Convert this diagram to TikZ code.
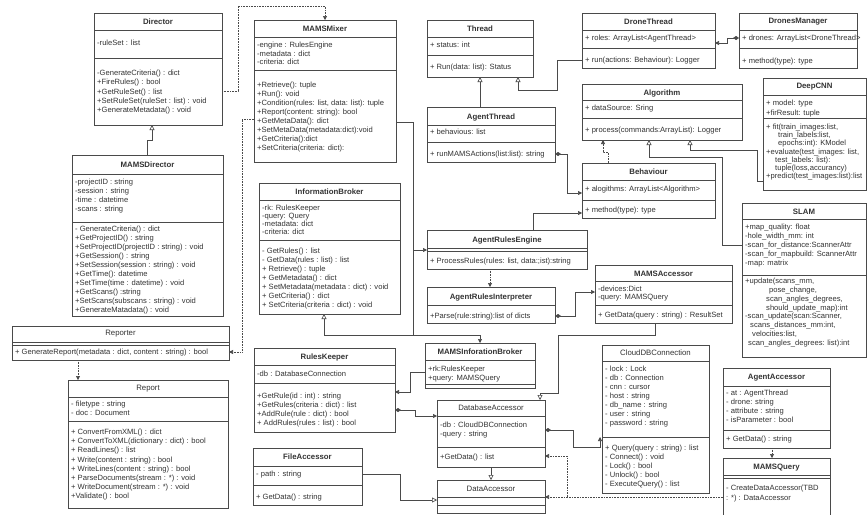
\documentclass[tikz,border=0pt]{standalone}
\usepackage{fontspec}
\setmainfont{Liberation Sans}
\usetikzlibrary{arrows.meta}

\definecolor{linegray}{HTML}{4A4A4A}
\definecolor{txtgray}{HTML}{333333}

\begin{document}
\begin{tikzpicture}[x=1pt,y=-1pt,
	every node/.style={text=txtgray},
	cls/.style={draw=linegray,fill=white,line width=0.6pt,anchor=north west,inner sep=0pt,outer sep=0pt},
	ttl/.style={font=\fontsize{7.8}{9}\selectfont\bfseries,inner sep=0pt},
	ttlr/.style={font=\fontsize{7.8}{9}\selectfont,inner sep=0pt},
	mbr/.style={anchor=north west,align=left,inner sep=0pt,font=\fontsize{7.6}{#1}\selectfont},
	mbr/.default=9,
	sep/.style={draw=linegray,line width=0.6pt},
	link/.style={draw=linegray,line width=0.6pt},
	assoc/.style={link,-{Triangle[length=4pt,width=4pt]}},
	inh/.style={link,-{Triangle[open,fill=white,length=5pt,width=5pt]}},
	dep/.style={link,densely dotted,-{Triangle[length=4pt,width=4pt]}},
	comp/.style={link,{Diamond[length=6pt,width=4pt]}-{Triangle[length=4pt,width=4pt]}}]
	\def\classbox#1#2#3#4#5{%
		\pgfmathsetmacro\bw{#4-#2}\pgfmathsetmacro\bh{#5-#3}%
		\node[cls,minimum width=\bw pt,minimum height=\bh pt] (#1) at (#2,#3) {};}
	\def\hsep#1#2{\draw[sep] (#1.west |- 0,#2) -- (#1.east |- 0,#2);}
	
	\useasboundingbox (0,0) rectangle (867,514);
	
	%Director side
	\classbox{dir}{94}{13}{222}{125}
	\node[ttl] (dir-t) at (dir.north |- 0,22) {Director};
	\hsep{dir}{30}\hsep{dir}{58}
	\node[mbr] (dir-a) at (97,40) {-ruleSet : list};
	\node[mbr=9.2] (dir-m) at (97,70) {-GenerateCriteria() : dict\\+FireRules() : bool\\+GetRuleSet() : list\\+SetRuleSet(ruleSet : list) : void\\+GenerateMetadata() : void};
	
	\classbox{mdir}{72}{155}{223}{316}
	\node[ttl] (mdir-t) at (mdir.north |- 0,165) {MAMSDirector};
	\hsep{mdir}{174}\hsep{mdir}{222}
	\node[mbr] (mdir-a) at (75,179) {-projectID : string\\-session : string\\-time : datetime\\-scans : string};
	\node[mbr] (mdir-m) at (75,226) {- GenerateCriteria() : dict\\+GetProjectID() : string\\+SetProjectID(projectID : string) : void\\+GetSession() : string\\+SetSession(session : string) : void\\+GetTime(): datetime\\+SetTime(time : datetime) : void\\+GetScans() :string\\+SetScans(subscans : string) : void\\+GenerateMatadata() : void};
	
	\classbox{rptr}{12}{326}{229}{360}
	\node[ttlr] (rptr-t) at (rptr.north |- 0,334) {Reporter};
	\hsep{rptr}{342}\hsep{rptr}{345}
	\node[mbr] (rptr-m) at (15,349) {+ GenerateReport(metadata : dict, content : string) : bool};
	
	\classbox{rpt}{68}{380}{228}{508}
	\node[ttlr] (rpt-t) at (rpt.north |- 0,389) {Report};
	\hsep{rpt}{397}\hsep{rpt}{421}
	\node[mbr] (rpt-a) at (71,401) {- filetype : string\\- doc : Document};
	\node[mbr=9.1] (rpt-m) at (71,429) {+ ConvertFromXML() : dict\\+ ConvertToXML(dictionary : dict) : bool\\+ ReadLines() : list\\+ Write(content : string) : bool\\+ WriteLines(content : string) : bool\\+ ParseDocuments(stream : *) : void\\+ WriteDocument(stream : *) : void\\+Validate() : bool};
	
	%mixer and brokers
	\classbox{mix}{254}{20}{396}{162}
	\node[ttl] (mix-t) at (mix.north |- 0,29) {MAMSMixer};
	\hsep{mix}{37}\hsep{mix}{70}
	\node[mbr=8.5] (mix-a) at (257,42) {-engine : RulesEngine\\-metadata : dict\\-criteria: dict};
	\node[mbr] (mix-m) at (257,82) {+Retrieve(): tuple\\+Run(): void\\+Condition(rules: list, data: list): tuple\\+Report(content: string): bool\\+GetMetaData(): dict\\+SetMetaData(metadata:dict):void\\+GetCriteria():dict\\+SetCriteria(criteria: dict):};
	
	\classbox{ib}{259}{183}{400}{314}
	\node[ttl] (ib-t) at (ib.north |- 0,192) {InformationBroker};
	\hsep{ib}{200}\hsep{ib}{240}
	\node[mbr=8] (ib-a) at (262,205) {-rk: RulesKeeper\\-query: Query\\-metadata: dict\\-criteria: dict};
	\node[mbr] (ib-m) at (262,248) {- GetRules() : list\\- GetData(rules : list) : list\\+ Retrieve() : tuple\\+ GetMetadata() : dict\\+ SetMetadata(metadata : dict) : void\\+ GetCriteria() : dict\\+ SetCriteria(criteria : dict) : void};
	
	\classbox{rk}{254}{348}{395}{432}
	\node[ttl] (rk-t) at (rk.north |- 0,357) {RulesKeeper};
	\hsep{rk}{365}\hsep{rk}{383}
	\node[mbr] (rk-a) at (257,371) {-db : DatabaseConnection};
	\node[mbr] (rk-m) at (257,393) {+GetRule(id : int) : string\\+GetRules(criteria : dict) : list\\+AddRule(rule : dict) : bool\\+ AddRules(rules : list) : bool};
	
	\classbox{fa}{253}{448}{362}{505}
	\node[ttl] (fa-t) at (fa.north |- 0,457) {FileAccessor};
	\hsep{fa}{466}\hsep{fa}{485}
	\node[mbr] (fa-a) at (256,471) {- path : string};
	\node[mbr] (fa-m) at (256,494) {+ GetData() : string};
	
	%threads
	\classbox{thr}{427}{20}{533}{77}
	\node[ttl] (thr-t) at (thr.north |- 0,29) {Thread};
	\hsep{thr}{37}\hsep{thr}{55}
	\node[mbr] (thr-a) at (430,42) {+ status: int};
	\node[mbr] (thr-m) at (430,64) {+ Run(data: list): Status};
	
	\classbox{dth}{582}{13}{715}{68}
	\node[ttl] (dth-t) at (dth.north |- 0,22) {DroneThread};
	\hsep{dth}{30}\hsep{dth}{48}
	\node[mbr] (dth-a) at (585,35) {+ roles: ArrayList<AgentThread>};
	\node[mbr] (dth-m) at (585,57) {+ run(actions: Behaviour): Logger};
	
	\classbox{dm}{739}{13}{857}{68}
	\node[ttl] (dm-t) at (dm.north |- 0,22) {DronesManager};
	\hsep{dm}{30}\hsep{dm}{48}
	\node[mbr] (dm-a) at (742,35) {+ drones: ArrayList<DroneThread>};
	\node[mbr] (dm-m) at (742,58) {+ method(type): type};
	
	\classbox{at}{427}{107}{555}{162}
	\node[ttl] (at-t) at (at.north |- 0,117) {AgentThread};
	\hsep{at}{125}\hsep{at}{142}
	\node[mbr] (at-a) at (430,129) {+ behavious: list};
	\node[mbr] (at-m) at (430,151) {+ runMAMSActions(list:list): string};
	
	%algorithms
	\classbox{alg}{582}{84}{742}{140}
	\node[ttl] (alg-t) at (alg.north |- 0,93) {Algorithm};
	\hsep{alg}{100}\hsep{alg}{118}
	\node[mbr] (alg-a) at (585,105) {+ dataSource: Sring};
	\node[mbr] (alg-m) at (585,127) {+ process(commands:ArrayList): Logger};
	
	\classbox{beh}{582}{163}{715}{218}
	\node[ttl] (beh-t) at (beh.north |- 0,172) {Behaviour};
	\hsep{beh}{180}\hsep{beh}{200}
	\node[mbr] (beh-a) at (585,186) {+ alogithms: ArrayList<Algorithm>};
	\node[mbr] (beh-m) at (585,207) {+ method(type): type};
	
	\classbox{cnn}{763}{78}{866}{190}
	\node[ttl] (cnn-t) at (cnn.north |- 0,87) {DeepCNN};
	\hsep{cnn}{95}\hsep{cnn}{118}
	\node[mbr=9.5] (cnn-a) at (766,100) {+ model: type\\+firResult: tuple};
	\node[mbr=8.1] (cnn-m) at (766,124) {+ fit(train\_images:list,\\\hspace*{12pt}train\_labels:list,\\\hspace*{12pt}epochs:int): KModel\\+evaluate(test\_images: list,\\\hspace*{9pt}test\_labels: list):\\\hspace*{9pt}tuple(loss,accurancy)\\+predict(test\_images:list):list};
	
	\classbox{slam}{742}{203}{866}{357}
	\node[ttl] (slam-t) at (slam.north |- 0,212) {SLAM};
	\hsep{slam}{219}\hsep{slam}{275}
	\node[mbr] (slam-a) at (745,224) {+map\_quality: float\\-hole\_width\_mm: int\\-scan\_for\_distance:ScannerAttr\\-scan\_for\_mapbuild: ScannerAttr\\-map: matrix};
	\node[mbr=8.8] (slam-m) at (745,278) {+update(scans\_mm,\\\hspace*{24pt}pose\_change,\\\hspace*{21pt}scan\_angles\_degrees,\\\hspace*{21pt}should\_update\_map):int\\-scan\_update(scan:Scanner,\\\hspace*{5pt}scans\_distances\_mm:int,\\\hspace*{7pt}velocities:list,\\\hspace*{3pt}scan\_angles\_degrees: list):int};
	
	%rules engine
	\classbox{are}{427}{230}{587}{269}
	\node[ttl] (are-t) at (are.north |- 0,240) {AgentRulesEngine};
	\hsep{are}{248}\hsep{are}{251}
	\node[mbr] (are-m) at (430,258) {+ ProcessRules(rules: list, data:;ist):string};
	
	\classbox{ari}{427}{287}{555}{323}
	\node[ttl] (ari-t) at (ari.north |- 0,297) {AgentRulesInterpreter};
	\hsep{ari}{305}
	\node[mbr] (ari-m) at (430,313) {+Parse(rule:string):list of dicts};
	
	\classbox{macc}{595}{265}{732}{323}
	\node[ttl] (macc-t) at (macc.north |- 0,274) {MAMSAccessor};
	\hsep{macc}{281}\hsep{macc}{305}
	\node[mbr=8] (macc-a) at (598,286) {-devices:Dict\\-query: MAMSQuery};
	\node[mbr] (macc-m) at (598,312) {+ GetData(query : string) : ResultSet};
	
	\classbox{mib}{425}{343}{535}{388}
	\node[ttl] (mib-t) at (mib.north |- 0,352) {MAMSInforationBroker};
	\hsep{mib}{360}\hsep{mib}{384}
	\node[mbr] (mib-a) at (428,366) {+rk:RulesKeeper\\+query: MAMSQuery};
	
	%data access
	\classbox{dba}{437}{400}{545}{467}
	\node[ttlr] (dba-t) at (dba.north |- 0,408) {DatabaseAccessor};
	\hsep{dba}{416}\hsep{dba}{447}
	\node[mbr] (dba-a) at (440,422) {-db : CloudDBConnection\\-query : string};
	\node[mbr] (dba-m) at (440,454) {+GetData() : list};
	
	\classbox{da}{437}{480}{545}{513}
	\node[ttlr] (da-t) at (da.north |- 0,489) {DataAccessor};
	\hsep{da}{497}\hsep{da}{505}
	
	\classbox{cdb}{602}{345}{709}{493}
	\node[ttlr] (cdb-t) at (cdb.north |- 0,353) {CloudDBConnection};
	\hsep{cdb}{361}\hsep{cdb}{437}
	\node[mbr] (cdb-a) at (605,366) {- lock : Lock\\- db : Connection\\- cnn : cursor\\- host : string\\- db\_name : string\\- user : string\\- password : string};
	\node[mbr] (cdb-m) at (605,445) {+ Query(query : string) : list\\- Connect() : void\\- Lock() : bool\\- Unlock() : bool\\- ExecuteQuery() : list};
	
	\classbox{aa}{723}{368}{830}{448}
	\node[ttl] (aa-t) at (aa.north |- 0,378) {AgentAccessor};
	\hsep{aa}{386}\hsep{aa}{430}
	\node[mbr] (aa-a) at (726,390) {- at : AgentThread\\- drone: string\\- attribute : string\\- isParameter : bool};
	\node[mbr] (aa-m) at (726,436) {+ GetData() : string};
	
	\classbox{mq}{723}{458}{830}{520}
	\node[ttl] (mq-t) at (mq.north |- 0,468) {MAMSQuery};
	\hsep{mq}{475}\hsep{mq}{478}
	\node[mbr=10] (mq-m) at (726,485) {- CreateDataAccessor(TBD\\: *) : DataAccessor};
	
	%connectors
	\coordinate (trunk) at (413,250);
	\coordinate (jn) at (413,335);
	\draw[dep] (dir.east |- 0,91) -- (238,91) -- (238,6) -| (mix.north);
	\draw[dep] (mix.west |- 0,119) -- (242,119) |- (rptr.east |- 0,352);
	\draw[inh] (mdir.north -| 147,0) -- (147,140) -| (dir.south -| 152,0);
	\draw[dep] (rptr.south -| 78,0) -- (rpt.north -| 78,0);
	\draw[assoc] (mix.east |- 0,122) -| (trunk) -- (are.west |- trunk);
	\draw[assoc] (trunk) -- (jn) -| (mib.north);
	\draw[inh] (jn) -| (ib.south -| 324,0);
	\draw[assoc] (mib.west |- 0,372) -- (410,372) |- (rk.east |- 0,392);
	\draw[comp] (rk.east |- 0,410) -- (415,410) |- (dba.west |- 0,416);
	\draw[inh] (fa.east |- 0,474) -- (400,474) |- (da.west |- 0,500);
	\draw[inh] (dba.south) -- (da.north);
	\draw[inh] (at.north -| thr.south) -- (thr.south);
	\draw[inh] (dth.west |- 0,60) -- (557,60) |- (518,90) -- (thr.south -| 518,0);
	\draw[comp] (dm.west |- 0,38) -- (727,38) |- (dth.east |- 0,43);
	\draw[comp] (at.east |- 0,154) -- (567,154) |- (beh.west |- 0,193);
	\draw[dep] (beh.north -| 608,0) -- (608,152) -| (alg.south -| 603,0);
	\draw[inh] (slam.west |- 0,245) -- (722,245) |- (649,157) -- (alg.south -| 649,0);
	\draw[inh] (cnn.west |- 0,181) -- (757,181) |- (690,150) -- (alg.south -| 690,0);
	\draw[assoc] (are.north -| 533,0) |- (beh.west |- 0,213);
	\draw[dep] (are.south -| 490,0) -- (ari.north -| 490,0);
	\draw[comp] (ari.east |- 0,316) -- (575,316) |- (macc.west |- 0,292);
	\draw[inh] (macc.south -| 655,0) -- (655,335) -| (558,393) -| (dba.north -| 540,0);
	\draw[comp] (dba.east |- 0,430) -- (573,430) |- (600,447) -- (600,437);
	\draw[dep] (mq.west |- 0,497) -- (da.east |- 0,497);
	\draw[dep] (567,497) |- (dba.east |- 0,456);
	\draw[dep] (aa.south -| 772,0) -- (mq.north -| 772,0);
\end{tikzpicture}
\end{document}
